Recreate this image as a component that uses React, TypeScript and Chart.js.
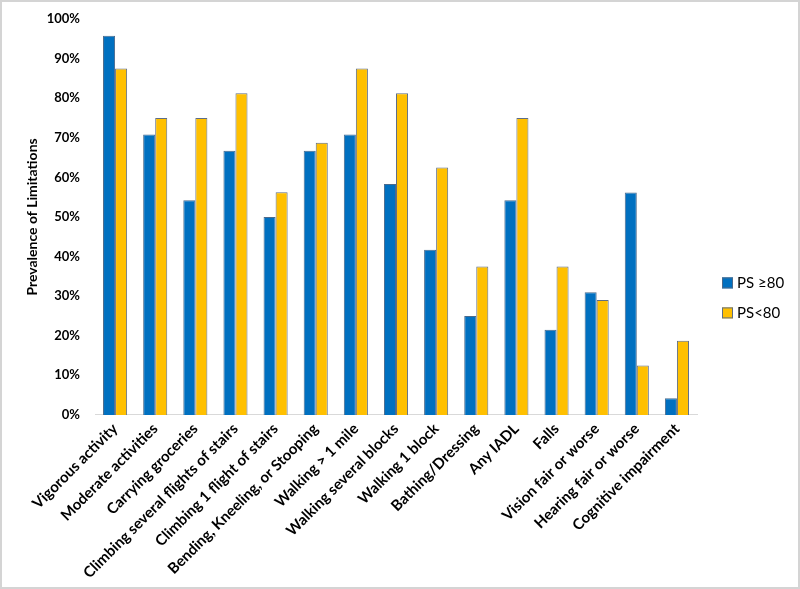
import React, { useEffect, useRef } from "react";
import { Chart, registerables } from "chart.js";

Chart.register(...registerables);

const categories = [
  "Vigorous activity",
  "Moderate activities",
  "Carrying groceries",
  "Climbing several flights of stairs",
  "Climbing 1 flight of stairs",
  "Bending, Kneeling, or Stooping",
  "Walking > 1 mile",
  "Walking several blocks",
  "Walking 1 block",
  "Bathing/Dressing",
  "Any IADL",
  "Falls",
  "Vision fair or worse",
  "Hearing fair or worse",
  "Cognitive impairment",
];

const psHigh = [95.8, 70.8, 54.2, 66.7, 50.0, 66.7, 70.8, 58.3, 41.7, 25.0, 54.2, 21.5, 31.0, 56.2, 4.2];
const psLow = [87.5, 75.0, 75.0, 81.25, 56.25, 68.75, 87.5, 81.25, 62.5, 37.5, 75.0, 37.5, 29.0, 12.5, 18.75];

const seriesNames = ["PS \u226580", "PS<80"];
const yTicks = [0, 10, 20, 30, 40, 50, 60, 70, 80, 90, 100];

const FONT = "Lato, 'Open Sans', sans-serif";

const legendPlugin = {
  id: "sideLegend",
  afterDraw(chart: any) {
    const { ctx, chartArea } = chart;
    const x0 = chartArea.right + 25;
    const yc = chartArea.bottom - 132;
    ctx.save();
    ctx.font = `15px ${FONT}`;
    ctx.textBaseline = "middle";
    ctx.textAlign = "left";
    chart.data.datasets.forEach((ds: any, i: number) => {
      const y = yc + i * 30;
      ctx.fillStyle = ds.backgroundColor;
      ctx.fillRect(x0, y - 5.5, 11, 11);
      ctx.strokeStyle = ds.borderColor;
      ctx.lineWidth = 1;
      ctx.strokeRect(x0 + 0.5, y - 5, 10, 10);
      ctx.fillStyle = "#000";
      ctx.fillText(ds.label, x0 + 15, y);
    });
    ctx.restore();
  },
};

export default function App() {
  const ref = useRef<HTMLCanvasElement | null>(null);

  useEffect(() => {
    if (!ref.current) return;
    const chart = new Chart(ref.current, {
      type: "bar",
      data: {
        labels: categories,
        datasets: [
          {
            label: seriesNames[0],
            data: psHigh,
            backgroundColor: "#0070C0",
            borderColor: "#4A6A8C",
            borderWidth: 1,
            categoryPercentage: 0.6,
            barPercentage: 1.0,
          },
          {
            label: seriesNames[1],
            data: psLow,
            backgroundColor: "#FFC000",
            borderColor: "#5E6E86",
            borderWidth: 1,
            categoryPercentage: 0.6,
            barPercentage: 1.0,
          },
        ],
      },
      plugins: [legendPlugin],
      options: {
        animation: false,
        responsive: false,
        maintainAspectRatio: false,
        layout: { padding: { left: 22, right: 101, top: 17, bottom: 0 } },
        plugins: {
          tooltip: { enabled: false },
          legend: { display: false },
        },
        scales: {
          x: {
            grid: { display: false, drawTicks: false },
            border: { display: true, color: "#D9D9D9", width: 1 },
            afterFit: (scale: any) => {
              scale.paddingLeft = 0;
              scale.paddingRight = 0;
            },
            ticks: {
              color: "#000",
              font: { family: FONT, size: 15, weight: "bold" },
              maxRotation: 45,
              minRotation: 45,
              autoSkip: false,
              padding: 5,
            },
          },
          y: {
            min: 0,
            max: 100,
            grid: { display: false, drawTicks: false },
            border: { display: false },
            afterFit: (scale: any) => {
              scale.width = 71;
              scale.paddingTop = 0;
              scale.paddingBottom = 0;
            },
            afterBuildTicks: (axis: any) => {
              axis.ticks = yTicks.map((v) => ({ value: v }));
            },
            ticks: {
              color: "#000",
              font: { family: FONT, size: 13, weight: "bold" },
              padding: 15,
              callback: (v: any) => v + "%",
            },
            title: {
              display: true,
              text: "Prevalence of Limitations",
              color: "#000",
              font: { family: FONT, size: 14, weight: "bold" },
              padding: { top: 0, bottom: 6 },
            },
          },
        },
      },
    });
    return () => chart.destroy();
  }, []);

  return (
    <div
      style={{
        position: "absolute",
        left: 0,
        top: 0,
        width: 800,
        height: 589,
        boxSizing: "border-box",
        border: "2px solid #D4D4D4",
        background: "#fff",
      }}
    >
      <canvas ref={ref} width={796} height={585} style={{ display: "block", width: 796, height: 585 }} />
    </div>
  );
}
